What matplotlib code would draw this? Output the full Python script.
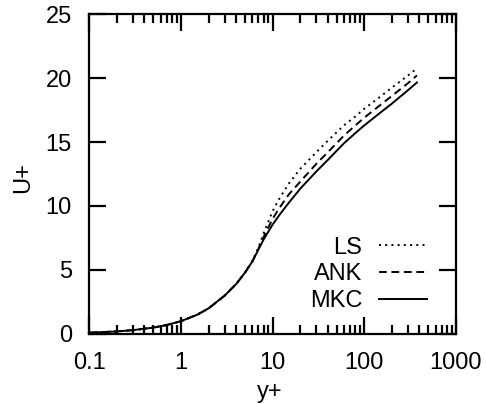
import matplotlib

matplotlib.use("Agg")

import matplotlib.pyplot as plt
from matplotlib.ticker import FixedLocator, FixedFormatter, LogLocator, NullFormatter, NullLocator


# wall distance shared by all three profiles
y_plus = [0.1, 0.2, 0.3, 0.5, 0.7, 1, 1.5, 2, 3, 4, 5, 6, 7, 8, 10, 12, 15,
          20, 30, 40, 60, 80, 100, 150, 200, 300, 375]

# mean velocity profiles U+
u_ls = [0.1, 0.2, 0.3, 0.5, 0.7, 1.0, 1.5, 2.0, 3.0, 3.9, 4.8, 5.7, 6.75, 7.9,
        9.6, 10.65, 11.75, 12.9, 14.2, 15.1, 16.3, 17.0, 17.6, 18.55, 19.25,
        20.2, 20.75]
u_ank = [0.1, 0.2, 0.3, 0.5, 0.7, 1.0, 1.5, 2.0, 3.0, 3.9, 4.8, 5.65, 6.65, 7.6,
         9.0, 9.9, 10.9, 11.9, 13.3, 14.2, 15.5, 16.3, 16.9, 17.9, 18.6,
         19.6, 20.2]
u_mkc = [0.1, 0.2, 0.3, 0.5, 0.7, 1.0, 1.5, 2.0, 3.0, 3.9, 4.8, 5.65, 6.6, 7.4,
         8.55, 9.35, 10.25, 11.35, 12.7, 13.6, 14.9, 15.7, 16.3, 17.3, 18.0,
         19.05, 19.65]

series_labels = ["LS", "ANK", "MKC"]

x_ticks = [0.1, 1, 10, 100, 1000]
x_tick_labels = ["0.1", "1", "10", "100", "1000"]
y_ticks = [0, 5, 10, 15, 20, 25]

plt.rcParams["font.family"] = ["Liberation Sans", "DejaVu Sans"]
plt.rcParams["font.size"] = 17

fig = plt.figure(figsize=(4.86, 4.04), dpi=100)
ax = fig.add_axes([0.1837, 0.1733, 0.7545, 0.792])

styles = [(0, (1, 2.2)), (0, (4.0, 2.4)), "-"]
for u, label, ls in zip([u_ls, u_ank, u_mkc], series_labels, styles):
    ax.plot(y_plus, u, color="black", linestyle=ls, linewidth=1.4, label=label)

ax.set_xscale("log")
ax.set_xlim(0.1, 1000)
ax.set_ylim(0, 25)

ax.xaxis.set_major_locator(FixedLocator(x_ticks))
ax.xaxis.set_major_formatter(FixedFormatter(x_tick_labels))
ax.xaxis.set_minor_locator(LogLocator(base=10, subs=range(2, 10)))
ax.xaxis.set_minor_formatter(NullFormatter())
ax.yaxis.set_major_locator(FixedLocator(y_ticks))
ax.yaxis.set_minor_locator(NullLocator())

for spine in ax.spines.values():
    spine.set_linewidth(1.6)

ax.tick_params(which="both", direction="in", top=True, right=True, width=1.6)
ax.tick_params(which="major", length=12.5)
ax.tick_params(which="minor", length=6.5)
ax.tick_params(axis="x", which="major", pad=13)
ax.tick_params(axis="y", which="major", pad=12.5)

ax.set_xlabel("y+", va="center")
ax.xaxis.set_label_coords(0.493, -0.181)
ax.set_ylabel("U+", va="center", ha="center")
ax.yaxis.set_label_coords(-0.18, 0.4875)

ax.legend(loc="center right", bbox_to_anchor=(0.92, 0.186), frameon=False,
          markerfirst=False, handlelength=2.0, handletextpad=0.73,
          labelspacing=0.2, borderpad=0, borderaxespad=0)

fig.savefig("out.png", dpi=100)
